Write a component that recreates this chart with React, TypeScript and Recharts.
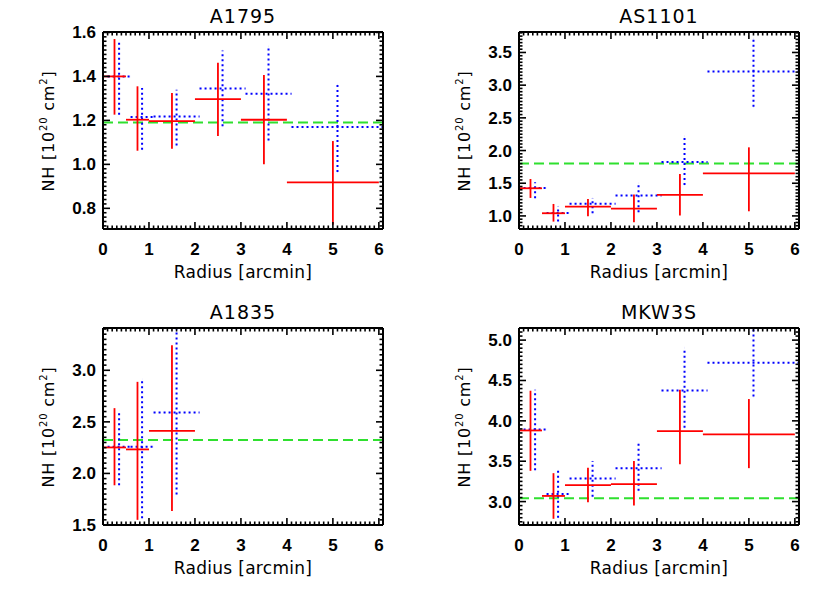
import React from "react";
import { ScatterChart, Scatter, XAxis, YAxis, ErrorBar, ReferenceLine } from "recharts";

// radial bins (arcmin): centre and half-width; the dotted fit is drawn shifted by +0.1'
const RADIUS = [0.25, 0.75, 1.5, 2.5, 3.5, 5];
const HALF_WIDTH = [0.25, 0.25, 0.5, 0.5, 0.5, 1];
const DOTTED_SHIFT = 0.1;
const X_TICKS = [0, 1, 2, 3, 4, 5, 6];

// A1795
const a1795Red = [1.40, 1.203, 1.197, 1.297, 1.203, 0.918];
const a1795RedHi = [1.570, 1.355, 1.324, 1.462, 1.406, 1.106];
const a1795RedLo = [1.226, 1.062, 1.071, 1.129, 1.000, 0.726];
const a1795Blue = [1.40, 1.215, 1.218, 1.345, 1.321, 1.170];
const a1795BlueHi = [1.567, 1.347, 1.339, 1.518, 1.536, 1.362];
const a1795BlueLo = [1.226, 1.067, 1.086, 1.173, 1.109, 0.965];
const a1795Gal = 1.19;
const a1795Ticks = [0.8, 1.0, 1.2, 1.4, 1.6];

// AS1101
const as1101Red = [1.423, 1.041, 1.143, 1.112, 1.321, 1.652];
const as1101RedHi = [1.565, 1.183, 1.26, 1.326, 1.642, 2.049];
const as1101RedLo = [1.275, 0.913, 0.995, 0.903, 1.005, 1.071];
const as1101Blue = [1.428, 1.046, 1.188, 1.311, 1.825, 3.21];
const as1101BlueHi = [1.514, 1.148, 1.275, 1.499, 2.217, 3.71];
const as1101BlueLo = [1.27, 0.913, 1.041, 1.056, 1.474, 2.67];
const as1101Gal = 1.80;
const as1101Ticks = [1.0, 1.5, 2.0, 2.5, 3.0, 3.5];

// A1835
const a1835Red = [2.252, 2.233, 2.412];
const a1835RedHi = [2.633, 2.888, 3.243];
const a1835RedLo = [1.885, 1.55, 1.636];
const a1835Blue = [2.259, 2.259, 2.591];
const a1835BlueHi = [2.61, 2.914, 3.41];
const a1835BlueLo = [1.885, 1.565, 1.795];
const a1835Gal = 2.323;
const a1835Ticks = [1.5, 2.0, 2.5, 3.0];

// MKW3S
const mkw3sRed = [3.881, 3.07, 3.205, 3.217, 3.873, 3.832];
const mkw3sRedHi = [4.373, 3.352, 3.418, 3.504, 4.385, 4.27];
const mkw3sRedLo = [3.381, 2.787, 2.992, 2.951, 3.463, 3.414];
const mkw3sBlue = [3.893, 3.094, 3.287, 3.414, 4.377, 4.721];
const mkw3sBlueHi = [4.385, 3.381, 3.504, 3.717, 4.906, 5.15];
const mkw3sBlueLo = [3.389, 2.80, 3.061, 3.135, 3.914, 4.303];
const mkw3sGal = 3.041;
const mkw3sTicks = [3.0, 3.5, 4.0, 4.5, 5.0];

const X_DOMAIN = [0, 6.09];
const RED = "#ff0000";
const BLUE = "#0000ff";
const GREEN = "#2fe02f";
const TICK_FONT = "'Liberation Sans', Arial, sans-serif";
const TEXT_FONT = "'DejaVu Sans', sans-serif";

type Pt = { x: number; y: number; xe: number[]; ye: number[] };

function toPoints(nh: number[], hi: number[], lo: number[], shift: number): Pt[] {
  return nh.map((v, i) => ({
    x: RADIUS[i] + shift,
    y: v,
    xe: [HALF_WIDTH[i], HALF_WIDTH[i]],
    ye: [v - lo[i], hi[i] - v],
  }));
}

// majors plus ten minor subdivisions, kept inside the domain
function withMinor(majors: number[], domain: number[]) {
  const sub = (majors[1] - majors[0]) / 10;
  const out: number[] = [];
  for (let k = Math.ceil(domain[0] / sub - 1e-6); k * sub <= domain[1] + 1e-9; k++) {
    out.push(Math.round(k * sub * 1000) / 1000);
  }
  return out;
}

function makeTick(side: "bottom" | "top" | "left" | "right", majors: number[], digits: number) {
  return (props: any) => {
    const { x, y, payload } = props;
    const v = payload.value;
    const major = majors.some((m) => Math.abs(m - v) < 1e-6);
    const len = major ? 7 : 3.5;
    let line;
    if (side === "bottom") line = <line x1={x} y1={y} x2={x} y2={y - len} />;
    else if (side === "top") line = <line x1={x} y1={y} x2={x} y2={y + len} />;
    else if (side === "left") line = <line x1={x} y1={y} x2={x + len} y2={y} />;
    else line = <line x1={x} y1={y} x2={x - len} y2={y} />;
    let label = null;
    if (major && side === "bottom") {
      label = (
        <text x={x} y={y + 26} textAnchor="middle" fontFamily={TICK_FONT} fontWeight="bold" fontSize={17} fill="#000">
          {v.toFixed(digits)}
        </text>
      );
    } else if (major && side === "left") {
      label = (
        <text x={x - 7} y={y + 6} textAnchor="end" fontFamily={TICK_FONT} fontWeight="bold" fontSize={17} fill="#000">
          {v.toFixed(digits)}
        </text>
      );
    }
    return (
      <g>
        <g stroke="#000" strokeWidth={1.6}>{line}</g>
        {label}
      </g>
    );
  };
}

const emptyShape = () => <circle r={0} />;

interface PanelProps {
  left: number;
  top: number;
  title: string;
  yDomain: number[];
  yTicks: number[];
  red: Pt[];
  blue: Pt[];
  gal: number;
}

function Panel({ left, top, title, yDomain, yTicks, red, blue, gal }: PanelProps) {
  const xAll = withMinor(X_TICKS, [0, 6]);
  const yAll = withMinor(yTicks, yDomain);
  const axisLine = { stroke: "#000", strokeWidth: 2 };
  return (
    <div style={{ position: "absolute", left, top, width: 415, height: 296 }}>
      <div style={{ position: "absolute", left: 143, width: 200, top: 7, textAlign: "center", fontFamily: TEXT_FONT, fontSize: 19, lineHeight: "19px", letterSpacing: 1 }}>
        {title}
      </div>
      <div style={{ position: "absolute", left: 143, width: 200, top: 264, textAlign: "center", fontFamily: TEXT_FONT, fontSize: 17, lineHeight: "17px", letterSpacing: 0.3 }}>
        Radius [arcmin]
      </div>
      <div
        style={{
          position: "absolute", left: 50, top: 131, transform: "translate(-50%, -50%) rotate(-90deg)",
          whiteSpace: "nowrap", fontFamily: TEXT_FONT, fontSize: 16, lineHeight: "16px", letterSpacing: 0.8,
        }}
      >
        NH [10<span style={{ position: "relative", top: -7, fontSize: 10 }}>20</span> cm<span style={{ position: "relative", top: -7, fontSize: 10 }}>2</span>]
      </div>
      <ScatterChart width={415} height={296} margin={{ top: 31, right: 31, bottom: 0, left: 0 }} style={{ position: "absolute", left: 0, top: 0 }}>
        <XAxis xAxisId="b" dataKey="x" type="number" orientation="bottom" domain={X_DOMAIN} allowDataOverflow
          ticks={xAll} interval={0} tickSize={0} tickMargin={0} tickLine={false} height={67}
          axisLine={axisLine} tick={makeTick("bottom", X_TICKS, 0)} />
        <XAxis xAxisId="t" dataKey="x" type="number" orientation="top" domain={X_DOMAIN} allowDataOverflow
          ticks={xAll} interval={0} tickSize={0} tickMargin={0} tickLine={false} height={1}
          axisLine={axisLine} tick={makeTick("top", X_TICKS, 0)} />
        <YAxis yAxisId="l" dataKey="y" type="number" orientation="left" domain={yDomain} allowDataOverflow
          ticks={yAll} interval={0} tickSize={0} tickMargin={0} tickLine={false} width={103}
          axisLine={axisLine} tick={makeTick("left", yTicks, 1)} />
        <YAxis yAxisId="r" dataKey="y" type="number" orientation="right" domain={yDomain} allowDataOverflow
          ticks={yAll} interval={0} tickSize={0} tickMargin={0} tickLine={false} width={1}
          axisLine={axisLine} tick={makeTick("right", yTicks, 1)} />
        <ReferenceLine xAxisId="b" yAxisId="l" y={gal} stroke={GREEN} strokeWidth={2} strokeDasharray="10 5" />
        <Scatter xAxisId="t" yAxisId="r" data={blue} shape={emptyShape} isAnimationActive={false} />
        <Scatter xAxisId="b" yAxisId="l" data={blue} shape={emptyShape} isAnimationActive={false}>
          <ErrorBar dataKey="xe" direction="x" width={0} stroke={BLUE} strokeWidth={2} strokeDasharray="2 3" />
          <ErrorBar dataKey="ye" direction="y" width={0} stroke={BLUE} strokeWidth={2} strokeDasharray="2 3" />
        </Scatter>
        <Scatter xAxisId="b" yAxisId="l" data={red} shape={emptyShape} isAnimationActive={false}>
          <ErrorBar dataKey="xe" direction="x" width={0} stroke={RED} strokeWidth={1.8} />
          <ErrorBar dataKey="ye" direction="y" width={0} stroke={RED} strokeWidth={1.8} />
        </Scatter>
      </ScatterChart>
    </div>
  );
}

export default function App() {
  return (
    <div style={{ position: "absolute", left: 0, top: 0, width: 830, height: 593, background: "#fff" }}>
      <Panel left={0} top={0} title="A1795" yDomain={[0.706, 1.602]} yTicks={a1795Ticks}
        red={toPoints(a1795Red, a1795RedHi, a1795RedLo, 0)}
        blue={toPoints(a1795Blue, a1795BlueHi, a1795BlueLo, DOTTED_SHIFT)} gal={a1795Gal} />
      <Panel left={416} top={0} title="AS1101" yDomain={[0.8, 3.813]} yTicks={as1101Ticks}
        red={toPoints(as1101Red, as1101RedHi, as1101RedLo, 0)}
        blue={toPoints(as1101Blue, as1101BlueHi, as1101BlueLo, DOTTED_SHIFT)} gal={as1101Gal} />
      <Panel left={0} top={296} title="A1835" yDomain={[1.5, 3.41]} yTicks={a1835Ticks}
        red={toPoints(a1835Red, a1835RedHi, a1835RedLo, 0)}
        blue={toPoints(a1835Blue, a1835BlueHi, a1835BlueLo, DOTTED_SHIFT)} gal={a1835Gal} />
      <Panel left={416} top={296} title="MKW3S" yDomain={[2.71, 5.15]} yTicks={mkw3sTicks}
        red={toPoints(mkw3sRed, mkw3sRedHi, mkw3sRedLo, 0)}
        blue={toPoints(mkw3sBlue, mkw3sBlueHi, mkw3sBlueLo, DOTTED_SHIFT)} gal={mkw3sGal} />
    </div>
  );
}
